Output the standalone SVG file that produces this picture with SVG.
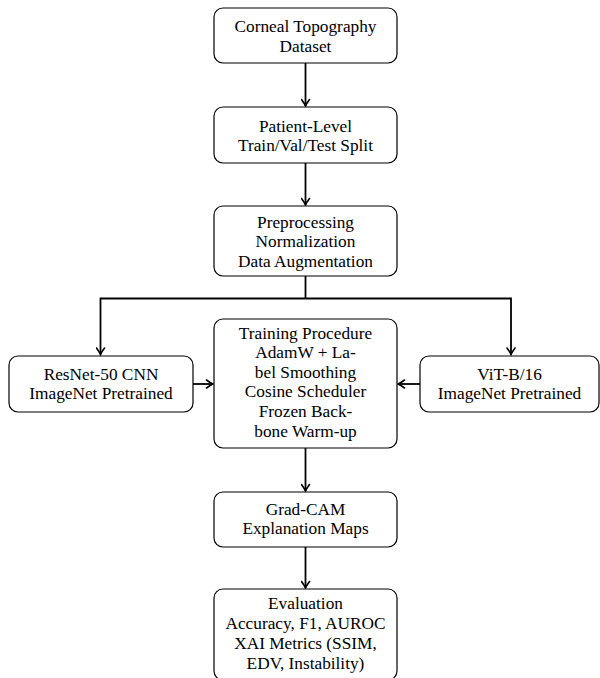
<svg xmlns="http://www.w3.org/2000/svg" width="600" height="678" viewBox="0 0 600 678">
<defs>
<style>
.box{fill:#fff;stroke:#000;stroke-width:1.2}
.lbl{font-family:"Liberation Serif","Times New Roman",serif;font-size:17.3px;fill:#000;text-anchor:middle}
.con{fill:none;stroke:#000;stroke-width:1.8}
</style>
<marker id="ah" viewBox="-8 -5 10 10" refX="0" refY="0" markerWidth="10" markerHeight="10" markerUnits="userSpaceOnUse" orient="auto">
<path d="M-6.5,-4 Q-2.5,-1 0,0 Q-2.5,1 -6.5,4" fill="none" stroke="#000" stroke-width="1.6" stroke-linecap="round"/>
</marker>
</defs>
<rect width="600" height="678" fill="#fff"/>
<g id="connectors">
<path class="con" d="M305.5,63 V106" marker-end="url(#ah)"/>
<path class="con" d="M305.5,163 V205" marker-end="url(#ah)"/>
<path class="con" d="M305.5,276 V298.5"/>
<path class="con" d="M305.5,298.5 H100.5 V354.5" marker-end="url(#ah)"/>
<path class="con" d="M305.5,298.5 H511 V354.5" marker-end="url(#ah)"/>
<path class="con" d="M193,384 H213" marker-end="url(#ah)"/>
<path class="con" d="M420,384 H398" marker-end="url(#ah)"/>
<path class="con" d="M305.5,448 V491" marker-end="url(#ah)"/>
<path class="con" d="M305.5,547 V588" marker-end="url(#ah)"/>
</g>
<g id="n1">
<rect class="box" x="214" y="8" width="183" height="55" rx="9"/>
<text class="lbl" x="305.5" y="32.3">Corneal Topography</text>
<text class="lbl" x="305.5" y="51.8">Dataset</text>
</g>
<g id="n2">
<rect class="box" x="214" y="107" width="183" height="56" rx="9"/>
<text class="lbl" x="305.5" y="131.5">Patient-Level</text>
<text class="lbl" x="305.5" y="151">Train/Val/Test Split</text>
</g>
<g id="n3">
<rect class="box" x="214" y="206" width="183" height="70" rx="9"/>
<text class="lbl" x="305.5" y="227.5">Preprocessing</text>
<text class="lbl" x="305.5" y="247">Normalization</text>
<text class="lbl" x="305.5" y="266.5">Data Augmentation</text>
</g>
<g id="n4">
<rect class="box" x="9" y="356" width="184" height="56" rx="9"/>
<text class="lbl" x="101" y="379.7">ResNet-50 CNN</text>
<text class="lbl" x="101" y="399.3">ImageNet Pretrained</text>
</g>
<g id="n5">
<rect class="box" x="214" y="319" width="183" height="129" rx="9"/>
<text class="lbl" x="305.5" y="338.5">Training Procedure</text>
<text class="lbl" x="305.5" y="358.1">AdamW + La-</text>
<text class="lbl" x="305.5" y="377.8">bel Smoothing</text>
<text class="lbl" x="305.5" y="397.4">Cosine Scheduler</text>
<text class="lbl" x="305.5" y="417">Frozen Back-</text>
<text class="lbl" x="305.5" y="436.7">bone Warm-up</text>
</g>
<g id="n6">
<rect class="box" x="420" y="356" width="179" height="56" rx="9"/>
<text class="lbl" x="509.5" y="379.7">ViT-B/16</text>
<text class="lbl" x="509.5" y="399.3">ImageNet Pretrained</text>
</g>
<g id="n7">
<rect class="box" x="214" y="492" width="183" height="55" rx="9"/>
<text class="lbl" x="305.5" y="515.3">Grad-CAM</text>
<text class="lbl" x="305.5" y="534.3">Explanation Maps</text>
</g>
<g id="n8">
<rect class="box" x="214" y="589" width="183" height="91" rx="9"/>
<text class="lbl" x="305.5" y="609.3">Evaluation</text>
<text class="lbl" x="305.5" y="629.2">Accuracy, F1, AUROC</text>
<text class="lbl" x="305.5" y="649">XAI Metrics (SSIM,</text>
<text class="lbl" x="305.5" y="668.8">EDV, Instability)</text>
</g>
</svg>
